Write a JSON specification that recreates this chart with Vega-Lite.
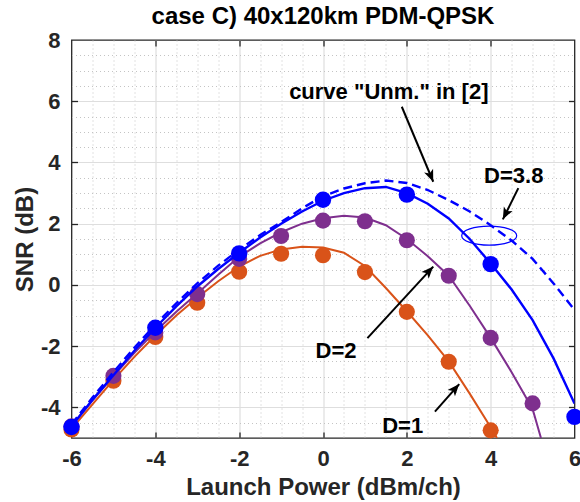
{
  "$schema": "https://vega.github.io/schema/vega-lite/v6.json",
  "width": 503,
  "height": 398,
  "autosize": {"type": "none"},
  "padding": {"left": 71.5, "top": 40, "right": 5.5, "bottom": 64},
  "background": "white",
  "title": {"text": "case C) 40x120km PDM-QPSK", "font": "Liberation Sans", "fontSize": 24, "fontWeight": "bold", "color": "#000000", "anchor": "middle", "baseline": "alphabetic", "offset": -19},
  "datasets": {
    "curves": [
      {"series": "D=1", "P": -6, "SNR": -4.7}, {"series": "D=1", "P": -5.5, "SNR": -3.9}, {"series": "D=1", "P": -5, "SNR": -3.1}, {"series": "D=1", "P": -4.5, "SNR": -2.35}, {"series": "D=1", "P": -4, "SNR": -1.65}, {"series": "D=1", "P": -3.5, "SNR": -1.0}, {"series": "D=1", "P": -3, "SNR": -0.42}, {"series": "D=1", "P": -2.5, "SNR": 0.12}, {"series": "D=1", "P": -2, "SNR": 0.6}, {"series": "D=1", "P": -1.5, "SNR": 0.95}, {"series": "D=1", "P": -1, "SNR": 1.16}, {"series": "D=1", "P": -0.5, "SNR": 1.25}, {"series": "D=1", "P": 0, "SNR": 1.22}, {"series": "D=1", "P": 0.5, "SNR": 1.05}, {"series": "D=1", "P": 1, "SNR": 0.62}, {"series": "D=1", "P": 1.5, "SNR": -0.1}, {"series": "D=1", "P": 2, "SNR": -0.86}, {"series": "D=1", "P": 2.5, "SNR": -1.65}, {"series": "D=1", "P": 3, "SNR": -2.5}, {"series": "D=1", "P": 3.5, "SNR": -3.55}, {"series": "D=1", "P": 4, "SNR": -4.65}, {"series": "D=1", "P": 4.15, "SNR": -5.0},
      {"series": "D=2", "P": -6, "SNR": -4.6}, {"series": "D=2", "P": -5.5, "SNR": -3.78}, {"series": "D=2", "P": -5, "SNR": -2.98}, {"series": "D=2", "P": -4.5, "SNR": -2.22}, {"series": "D=2", "P": -4, "SNR": -1.52}, {"series": "D=2", "P": -3.5, "SNR": -0.88}, {"series": "D=2", "P": -3, "SNR": -0.28}, {"series": "D=2", "P": -2.5, "SNR": 0.33}, {"series": "D=2", "P": -2, "SNR": 0.92}, {"series": "D=2", "P": -1.5, "SNR": 1.36}, {"series": "D=2", "P": -1, "SNR": 1.72}, {"series": "D=2", "P": -0.5, "SNR": 2.0}, {"series": "D=2", "P": 0, "SNR": 2.18}, {"series": "D=2", "P": 0.5, "SNR": 2.26}, {"series": "D=2", "P": 1, "SNR": 2.2}, {"series": "D=2", "P": 1.5, "SNR": 1.95}, {"series": "D=2", "P": 2, "SNR": 1.5}, {"series": "D=2", "P": 2.5, "SNR": 0.94}, {"series": "D=2", "P": 3, "SNR": 0.3}, {"series": "D=2", "P": 3.5, "SNR": -0.68}, {"series": "D=2", "P": 4, "SNR": -1.73}, {"series": "D=2", "P": 4.5, "SNR": -2.85}, {"series": "D=2", "P": 5, "SNR": -4.05}, {"series": "D=2", "P": 5.2, "SNR": -5.0},
      {"series": "D=3.8", "P": -6, "SNR": -4.62}, {"series": "D=3.8", "P": -5.5, "SNR": -3.75}, {"series": "D=3.8", "P": -5, "SNR": -2.95}, {"series": "D=3.8", "P": -4.5, "SNR": -2.15}, {"series": "D=3.8", "P": -4, "SNR": -1.4}, {"series": "D=3.8", "P": -3.5, "SNR": -0.7}, {"series": "D=3.8", "P": -3, "SNR": -0.05}, {"series": "D=3.8", "P": -2.5, "SNR": 0.52}, {"series": "D=3.8", "P": -2, "SNR": 1.05}, {"series": "D=3.8", "P": -1.5, "SNR": 1.55}, {"series": "D=3.8", "P": -1, "SNR": 2.0}, {"series": "D=3.8", "P": -0.5, "SNR": 2.4}, {"series": "D=3.8", "P": 0, "SNR": 2.75}, {"series": "D=3.8", "P": 0.5, "SNR": 3.0}, {"series": "D=3.8", "P": 1, "SNR": 3.16}, {"series": "D=3.8", "P": 1.5, "SNR": 3.2}, {"series": "D=3.8", "P": 2, "SNR": 3.0}, {"series": "D=3.8", "P": 2.5, "SNR": 2.65}, {"series": "D=3.8", "P": 3, "SNR": 2.17}, {"series": "D=3.8", "P": 3.5, "SNR": 1.5}, {"series": "D=3.8", "P": 4, "SNR": 0.7}, {"series": "D=3.8", "P": 4.5, "SNR": -0.15}, {"series": "D=3.8", "P": 5, "SNR": -1.15}, {"series": "D=3.8", "P": 5.5, "SNR": -2.4}, {"series": "D=3.8", "P": 6, "SNR": -3.87},
      {"series": "Unm", "P": -6, "SNR": -4.55}, {"series": "Unm", "P": -5.5, "SNR": -3.68}, {"series": "Unm", "P": -5, "SNR": -2.85}, {"series": "Unm", "P": -4.5, "SNR": -2.05}, {"series": "Unm", "P": -4, "SNR": -1.3}, {"series": "Unm", "P": -3.5, "SNR": -0.6}, {"series": "Unm", "P": -3, "SNR": 0.05}, {"series": "Unm", "P": -2.5, "SNR": 0.63}, {"series": "Unm", "P": -2, "SNR": 1.15}, {"series": "Unm", "P": -1.5, "SNR": 1.63}, {"series": "Unm", "P": -1, "SNR": 2.05}, {"series": "Unm", "P": -0.5, "SNR": 2.5}, {"series": "Unm", "P": 0, "SNR": 2.9}, {"series": "Unm", "P": 0.5, "SNR": 3.15}, {"series": "Unm", "P": 1, "SNR": 3.32}, {"series": "Unm", "P": 1.5, "SNR": 3.41}, {"series": "Unm", "P": 2, "SNR": 3.33}, {"series": "Unm", "P": 2.5, "SNR": 3.1}, {"series": "Unm", "P": 3, "SNR": 2.77}, {"series": "Unm", "P": 3.5, "SNR": 2.4}, {"series": "Unm", "P": 4, "SNR": 1.95}, {"series": "Unm", "P": 4.5, "SNR": 1.45}, {"series": "Unm", "P": 5, "SNR": 0.85}, {"series": "Unm", "P": 5.5, "SNR": 0.05}, {"series": "Unm", "P": 6, "SNR": -0.82}
    ],
    "points": [
      {"D": "D=1", "P": -6, "SNR": -4.72}, {"D": "D=1", "P": -5, "SNR": -3.13}, {"D": "D=1", "P": -4, "SNR": -1.7}, {"D": "D=1", "P": -3, "SNR": -0.58}, {"D": "D=1", "P": -2, "SNR": 0.43}, {"D": "D=1", "P": -1, "SNR": 1.02}, {"D": "D=1", "P": 0, "SNR": 0.97}, {"D": "D=1", "P": 1, "SNR": 0.42}, {"D": "D=1", "P": 2, "SNR": -0.88}, {"D": "D=1", "P": 3, "SNR": -2.51}, {"D": "D=1", "P": 4, "SNR": -4.75},
      {"D": "D=2", "P": -6, "SNR": -4.62}, {"D": "D=2", "P": -5, "SNR": -2.97}, {"D": "D=2", "P": -4, "SNR": -1.55}, {"D": "D=2", "P": -3, "SNR": -0.3}, {"D": "D=2", "P": -2, "SNR": 0.85}, {"D": "D=2", "P": -1, "SNR": 1.6}, {"D": "D=2", "P": 0, "SNR": 2.1}, {"D": "D=2", "P": 1, "SNR": 2.08}, {"D": "D=2", "P": 2, "SNR": 1.46}, {"D": "D=2", "P": 3, "SNR": 0.3}, {"D": "D=2", "P": 4, "SNR": -1.73}, {"D": "D=2", "P": 5, "SNR": -3.87},
      {"D": "D=3.8", "P": -6, "SNR": -4.64}, {"D": "D=3.8", "P": -4, "SNR": -1.4}, {"D": "D=3.8", "P": -2, "SNR": 1.03}, {"D": "D=3.8", "P": 0, "SNR": 2.78}, {"D": "D=3.8", "P": 2, "SNR": 2.95}, {"D": "D=3.8", "P": 4, "SNR": 0.68}, {"D": "D=3.8", "P": 6, "SNR": -4.31}
    ],
    "arrows": [
      {"id": "unm", "P": 1.88, "SNR": 5.82, "P2": 2.63, "SNR2": 3.37},
      {"id": "d38", "P": 4.66, "SNR": 3.16, "P2": 4.29, "SNR2": 2.14},
      {"id": "d2", "P": 1.06, "SNR": -1.74, "P2": 2.63, "SNR2": 0.6},
      {"id": "d1", "P": 2.67, "SNR": -4.14, "P2": 3.25, "SNR2": -3.24}
    ],
    "labels": [
      {"label": "curve \"Unm.\" in [2]", "P": 1.57, "SNR": 6.06},
      {"label": "D=3.8", "P": 4.55, "SNR": 3.34},
      {"label": "D=2", "P": 0.31, "SNR": -2.4},
      {"label": "D=1", "P": 1.9, "SNR": -4.85}
    ],
    "marker": [{"P": 3.965, "SNR": 1.61}]
  },
  "encoding": {
    "x": {"field": "P", "type": "quantitative", "scale": {"domain": [-6, 6], "nice": false, "zero": false}, "axis": null},
    "y": {"field": "SNR", "type": "quantitative", "scale": {"domain": [-5, 8], "nice": false, "zero": false}, "axis": null}
  },
  "layer": [
    {
      "data": {"name": "curves"},
      "transform": [{"filter": "datum.series === 'D=1'"}],
      "mark": {"type": "line", "color": "#D95319", "strokeWidth": 2, "clip": true},
      "encoding": {
        "x": {"field": "P", "type": "quantitative", "scale": {"domain": [-6, 6], "nice": false, "zero": false},
          "axis": {"orient": "bottom", "title": "Launch Power (dBm/ch)",
            "values": [-6, -5.5, -5, -4.5, -4, -3.5, -3, -2.5, -2, -1.5, -1, -0.5, 0, 0.5, 1, 1.5, 2, 2.5, 3, 3.5, 4, 4.5, 5, 5.5, 6],
            "labelExpr": "datum.value % 2 === 0 ? '' + datum.value : ''",
            "labelOverlap": false, "labelFlush": false, "labelBound": false,
            "ticks": false, "domain": false, "grid": true,
            "gridColor": {"condition": {"test": "datum.value % 2 === 0", "value": "#dedede"}, "value": "#c4c4c4"},
            "gridDash": {"condition": {"test": "datum.value % 2 === 0", "value": []}, "value": [1, 3]},
            "gridWidth": {"condition": {"test": "datum.value % 2 === 0", "value": 1.2}, "value": 1},
            "gridOpacity": {"condition": {"test": "abs(datum.value) === 6", "value": 0}, "value": 1},
            "labelFont": "Liberation Sans", "labelFontSize": 22, "labelFontWeight": "bold", "labelColor": "#262626", "labelPadding": 10,
            "titleFont": "Liberation Sans", "titleFontSize": 24, "titleFontWeight": "bold", "titleColor": "#262626", "titlePadding": 6}},
        "y": {"field": "SNR", "type": "quantitative", "scale": {"domain": [-5, 8], "nice": false, "zero": false},
          "axis": {"orient": "left", "title": "SNR (dB)",
            "values": [-5, -4.5, -4, -3.5, -3, -2.5, -2, -1.5, -1, -0.5, 0, 0.5, 1, 1.5, 2, 2.5, 3, 3.5, 4, 4.5, 5, 5.5, 6, 6.5, 7, 7.5, 8],
            "labelExpr": "datum.value % 2 === 0 ? '' + datum.value : ''",
            "labelOverlap": false, "labelFlush": false, "labelBound": false,
            "ticks": false, "domain": false, "grid": true,
            "gridColor": {"condition": {"test": "datum.value % 2 === 0", "value": "#dedede"}, "value": "#c4c4c4"},
            "gridDash": {"condition": {"test": "datum.value % 2 === 0", "value": []}, "value": [1, 3]},
            "gridWidth": {"condition": {"test": "datum.value % 2 === 0", "value": 1.2}, "value": 1},
            "gridOpacity": {"condition": {"test": "datum.value === 8 || datum.value === -5", "value": 0}, "value": 1},
            "labelFont": "Liberation Sans", "labelFontSize": 22, "labelFontWeight": "bold", "labelColor": "#262626", "labelPadding": 11.5,
            "titleFont": "Liberation Sans", "titleFontSize": 24, "titleFontWeight": "bold", "titleColor": "#262626", "titlePadding": 3}}
      }
    },
    {
      "data": {"name": "points"},
      "transform": [{"filter": "datum.D === 'D=1'"}],
      "mark": {"type": "circle", "color": "#D95319", "size": 260, "opacity": 1},
      "encoding": {
        "x": {"field": "P", "type": "quantitative", "scale": {"domain": [-6, 6], "nice": false, "zero": false},
          "axis": {"orient": "top", "offset": -398, "values": [-4, -2, 0, 2, 4], "labels": false, "grid": false, "domain": false, "ticks": true, "tickSize": 6, "tickColor": "#262626", "tickWidth": 1.3, "title": null}},
        "y": {"field": "SNR", "type": "quantitative", "scale": {"domain": [-5, 8], "nice": false, "zero": false},
          "axis": {"orient": "right", "offset": -503, "values": [-4, -2, 0, 2, 4, 6], "labels": false, "grid": false, "domain": false, "ticks": true, "tickSize": 6, "tickColor": "#262626", "tickWidth": 1.3, "title": null}}
      }
    },
    {
      "data": {"name": "curves"},
      "transform": [{"filter": "datum.series === 'D=2'"}],
      "mark": {"type": "line", "color": "#7E2F8E", "strokeWidth": 2, "clip": true},
      "encoding": {
        "x": {"field": "P", "type": "quantitative", "scale": {"domain": [-6, 6], "nice": false, "zero": false},
          "axis": {"orient": "bottom", "offset": -398, "values": [-4, -2, 0, 2, 4], "labels": false, "grid": false, "domain": false, "ticks": true, "tickSize": 6, "tickColor": "#262626", "tickWidth": 1.3, "title": null}},
        "y": {"field": "SNR", "type": "quantitative", "scale": {"domain": [-5, 8], "nice": false, "zero": false},
          "axis": {"orient": "left", "offset": -503, "values": [-4, -2, 0, 2, 4, 6], "labels": false, "grid": false, "domain": false, "ticks": true, "tickSize": 6, "tickColor": "#262626", "tickWidth": 1.3, "title": null}}
      }
    },
    {
      "data": {"name": "points"},
      "transform": [{"filter": "datum.D === 'D=2'"}],
      "mark": {"type": "circle", "color": "#7E2F8E", "size": 260, "opacity": 1}
    },
    {
      "data": {"name": "curves"},
      "transform": [{"filter": "datum.series === 'D=3.8'"}],
      "mark": {"type": "line", "color": "#0000FF", "strokeWidth": 2.4, "clip": true}
    },
    {
      "data": {"name": "points"},
      "transform": [{"filter": "datum.D === 'D=3.8'"}],
      "mark": {"type": "circle", "color": "#0000FF", "size": 270, "opacity": 1}
    },
    {
      "data": {"name": "curves"},
      "transform": [{"filter": "datum.series === 'Unm'"}],
      "mark": {"type": "line", "color": "#0000FF", "strokeWidth": 2.4, "strokeDash": [9, 5], "clip": true}
    },
    {
      "data": {"name": "arrows"},
      "mark": {"type": "rule", "color": "#000000", "strokeWidth": 2},
      "encoding": {"x2": {"field": "P2"}, "y2": {"field": "SNR2"}}
    },
    {
      "data": {"name": "arrows"},
      "transform": [{"filter": "datum.id === 'unm'"}],
      "mark": {"type": "point", "shape": "M0,0 L0.65,1.6 L0,1.2 L-0.65,1.6 Z", "filled": true, "color": "#000000", "size": 225, "opacity": 1, "angle": 157.2},
      "encoding": {"x": {"field": "P2", "type": "quantitative", "scale": {"domain": [-6, 6], "nice": false, "zero": false}, "axis": null}, "y": {"field": "SNR2", "type": "quantitative", "scale": {"domain": [-5, 8], "nice": false, "zero": false}, "axis": null}}
    },
    {
      "data": {"name": "arrows"},
      "transform": [{"filter": "datum.id === 'd38'"}],
      "mark": {"type": "point", "shape": "M0,0 L0.65,1.6 L0,1.2 L-0.65,1.6 Z", "filled": true, "color": "#000000", "size": 225, "opacity": 1, "angle": 206.7},
      "encoding": {"x": {"field": "P2", "type": "quantitative", "scale": {"domain": [-6, 6], "nice": false, "zero": false}, "axis": null}, "y": {"field": "SNR2", "type": "quantitative", "scale": {"domain": [-5, 8], "nice": false, "zero": false}, "axis": null}}
    },
    {
      "data": {"name": "arrows"},
      "transform": [{"filter": "datum.id === 'd2'"}],
      "mark": {"type": "point", "shape": "M0,0 L0.65,1.6 L0,1.2 L-0.65,1.6 Z", "filled": true, "color": "#000000", "size": 225, "opacity": 1, "angle": 42.7},
      "encoding": {"x": {"field": "P2", "type": "quantitative", "scale": {"domain": [-6, 6], "nice": false, "zero": false}, "axis": null}, "y": {"field": "SNR2", "type": "quantitative", "scale": {"domain": [-5, 8], "nice": false, "zero": false}, "axis": null}}
    },
    {
      "data": {"name": "arrows"},
      "transform": [{"filter": "datum.id === 'd1'"}],
      "mark": {"type": "point", "shape": "M0,0 L0.65,1.6 L0,1.2 L-0.65,1.6 Z", "filled": true, "color": "#000000", "size": 225, "opacity": 1, "angle": 41.3},
      "encoding": {"x": {"field": "P2", "type": "quantitative", "scale": {"domain": [-6, 6], "nice": false, "zero": false}, "axis": null}, "y": {"field": "SNR2", "type": "quantitative", "scale": {"domain": [-5, 8], "nice": false, "zero": false}, "axis": null}}
    },
    {
      "data": {"name": "marker"},
      "mark": {"type": "point", "shape": "M-1,0 C-1,-0.19 -0.552,-0.345 0,-0.345 C0.552,-0.345 1,-0.19 1,0 C1,0.19 0.552,0.345 0,0.345 C-0.552,0.345 -1,0.19 -1,0 Z", "filled": false, "color": "#0000FF", "strokeWidth": 1.2, "size": 3025, "opacity": 1}
    },
    {
      "data": {"name": "labels"},
      "mark": {"type": "text", "font": "Liberation Sans", "fontSize": 22, "fontWeight": "bold", "color": "#000000", "align": "center", "baseline": "alphabetic"},
      "encoding": {"text": {"field": "label", "type": "nominal"}}
    }
  ],
  "resolve": {"axis": {"x": "independent", "y": "independent"}},
  "config": {"view": {"stroke": "#262626", "strokeWidth": 1.3}}
}
